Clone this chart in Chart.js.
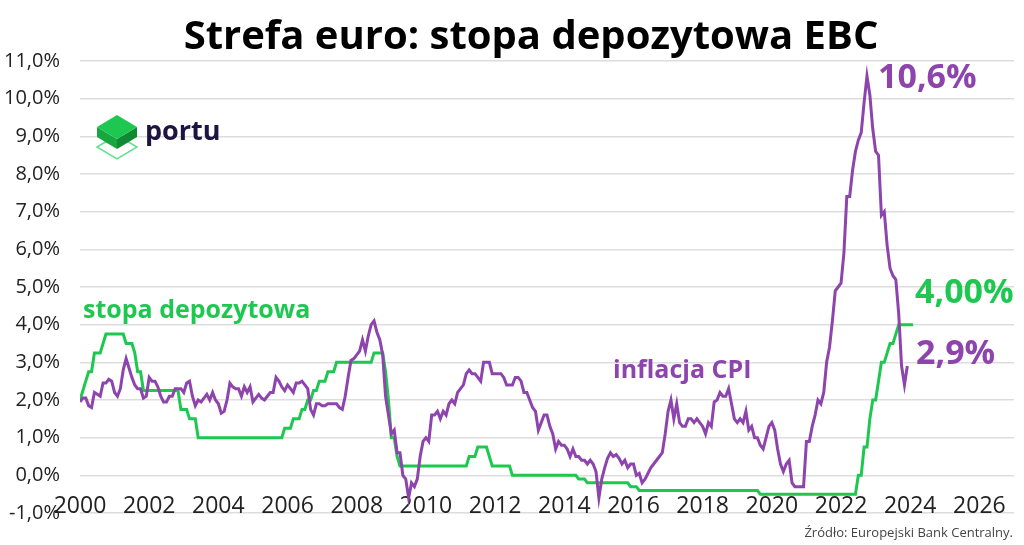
<!DOCTYPE html>
<html>
<head>
<meta charset="utf-8">
<script src="https://cdn.jsdelivr.net/npm/chart.js@4.4.1/dist/chart.umd.min.js"></script>
<style>
  html, body { margin: 0; padding: 0; background: #fff; }
  #wrap { width: 1024px; height: 545px; }
</style>
</head>
<body>
<div id="wrap"><canvas id="chart" width="1024" height="545"></canvas></div>
<script>
// monthly data, first point = January 2000
const startYear = 2000

// inflacja CPI (r/r, %), Jan 2000 - Dec 2023
const cpi = [
  1.95, 2.05, 2.05, 1.85, 1.8, 2.2, 2.15, 2.1, 2.45, 2.45, 2.55, 2.5,   // 2000
  2.2, 2.1, 2.3, 2.8, 3.1, 2.85, 2.6, 2.4, 2.3, 2.3, 2.05, 2.1,        // 2001
  2.6, 2.5, 2.5, 2.35, 2.1, 1.95, 1.95, 2.1, 2.1, 2.3, 2.3, 2.3,       // 2002
  2.2, 2.45, 2.5, 2.1, 1.85, 2.0, 1.95, 2.05, 2.15, 2.0, 2.2, 2.0,     // 2003
  1.9, 1.65, 1.7, 2.0, 2.45, 2.35, 2.3, 2.3, 2.1, 2.35, 2.2, 2.35,     // 2004
  1.95, 2.05, 2.15, 2.05, 2.0, 2.1, 2.2, 2.2, 2.6, 2.5, 2.35, 2.25,    // 2005
  2.4, 2.3, 2.2, 2.45, 2.45, 2.5, 2.4, 2.3, 1.75, 1.6, 1.9, 1.9,       // 2006
  1.85, 1.85, 1.9, 1.9, 1.9, 1.9, 1.8, 1.75, 2.1, 2.6, 3.05, 3.1,      // 2007
  3.2, 3.3, 3.6, 3.3, 3.7, 4.0, 4.1, 3.8, 3.6, 3.2, 2.1, 1.6,          // 2008
  1.1, 1.2, 0.6, 0.6, 0.0, -0.1, -0.6, -0.2, -0.3, -0.1, 0.5, 0.9,     // 2009
  1.0, 0.9, 1.6, 1.6, 1.7, 1.5, 1.7, 1.6, 1.9, 2.0, 1.9, 2.2,          // 2010
  2.3, 2.4, 2.7, 2.8, 2.7, 2.7, 2.6, 2.5, 3.0, 3.0, 3.0, 2.7,          // 2011
  2.7, 2.7, 2.7, 2.6, 2.4, 2.4, 2.4, 2.6, 2.6, 2.5, 2.2, 2.2,          // 2012
  2.0, 1.8, 1.7, 1.2, 1.4, 1.6, 1.6, 1.3, 1.1, 0.7, 0.9, 0.8,          // 2013
  0.8, 0.7, 0.5, 0.7, 0.5, 0.5, 0.4, 0.4, 0.3, 0.4, 0.3, 0.1,          // 2014
  -0.6, -0.1, 0.2, 0.45, 0.6, 0.5, 0.55, 0.45, 0.3, 0.4, 0.2, 0.3,     // 2015
  0.3, 0.0, 0.05, -0.2, -0.1, 0.05, 0.2, 0.3, 0.4, 0.5, 0.6, 1.1,      // 2016
  1.7, 2.0, 1.5, 1.9, 1.4, 1.3, 1.3, 1.5, 1.5, 1.4, 1.5, 1.4,          // 2017
  1.3, 1.1, 1.4, 1.3, 1.95, 2.0, 2.2, 2.1, 2.1, 2.3, 1.9, 1.5,         // 2018
  1.4, 1.5, 1.4, 1.7, 1.2, 1.3, 1.0, 1.0, 0.8, 0.7, 1.0, 1.3,          // 2019
  1.4, 1.2, 0.7, 0.3, 0.1, 0.3, 0.4, -0.2, -0.3, -0.3, -0.3, -0.3,     // 2020
  0.9, 0.9, 1.3, 1.6, 2.0, 1.9, 2.2, 3.0, 3.4, 4.1, 4.9, 5.0,          // 2021
  5.1, 5.9, 7.4, 7.4, 8.1, 8.6, 8.9, 9.1, 9.9, 10.6, 10.1, 9.2,        // 2022
  8.6, 8.5, 6.9, 7.0, 6.1, 5.5, 5.3, 5.2, 4.3, 2.9, 2.4, 2.9           // 2023
]

// stopa depozytowa EBC (%), Jan 2000 - Feb 2024
const depo = [
  2.0, 2.25, 2.5, 2.75, 2.75, 3.25, 3.25, 3.25, 3.5, 3.75, 3.75, 3.75,      // 2000
  3.75, 3.75, 3.75, 3.75, 3.5, 3.5, 3.5, 3.25, 2.75, 2.75, 2.25, 2.25,      // 2001
  2.25, 2.25, 2.25, 2.25, 2.25, 2.25, 2.25, 2.25, 2.25, 2.25, 2.25, 1.75,   // 2002
  1.75, 1.75, 1.5, 1.5, 1.5, 1.0, 1.0, 1.0, 1.0, 1.0, 1.0, 1.0,             // 2003
  1.0, 1.0, 1.0, 1.0, 1.0, 1.0, 1.0, 1.0, 1.0, 1.0, 1.0, 1.0,               // 2004
  1.0, 1.0, 1.0, 1.0, 1.0, 1.0, 1.0, 1.0, 1.0, 1.0, 1.0, 1.25,              // 2005
  1.25, 1.25, 1.5, 1.5, 1.5, 1.75, 1.75, 2.0, 2.0, 2.25, 2.25, 2.5,         // 2006
  2.5, 2.5, 2.75, 2.75, 2.75, 3.0, 3.0, 3.0, 3.0, 3.0, 3.0, 3.0,            // 2007
  3.0, 3.0, 3.0, 3.0, 3.0, 3.0, 3.25, 3.25, 3.25, 3.25, 2.75, 2.0,          // 2008
  1.0, 1.0, 0.5, 0.25, 0.25, 0.25, 0.25, 0.25, 0.25, 0.25, 0.25, 0.25,      // 2009
  0.25, 0.25, 0.25, 0.25, 0.25, 0.25, 0.25, 0.25, 0.25, 0.25, 0.25, 0.25,   // 2010
  0.25, 0.25, 0.25, 0.5, 0.5, 0.5, 0.75, 0.75, 0.75, 0.75, 0.5, 0.25,       // 2011
  0.25, 0.25, 0.25, 0.25, 0.25, 0.25, 0.0, 0.0, 0.0, 0.0, 0.0, 0.0,         // 2012
  0.0, 0.0, 0.0, 0.0, 0.0, 0.0, 0.0, 0.0, 0.0, 0.0, 0.0, 0.0,               // 2013
  0.0, 0.0, 0.0, 0.0, 0.0, -0.1, -0.1, -0.1, -0.2, -0.2, -0.2, -0.2,        // 2014
  -0.2, -0.2, -0.2, -0.2, -0.2, -0.2, -0.2, -0.2, -0.2, -0.2, -0.2, -0.3,   // 2015
  -0.3, -0.3, -0.4, -0.4, -0.4, -0.4, -0.4, -0.4, -0.4, -0.4, -0.4, -0.4,   // 2016
  -0.4, -0.4, -0.4, -0.4, -0.4, -0.4, -0.4, -0.4, -0.4, -0.4, -0.4, -0.4,   // 2017
  -0.4, -0.4, -0.4, -0.4, -0.4, -0.4, -0.4, -0.4, -0.4, -0.4, -0.4, -0.4,   // 2018
  -0.4, -0.4, -0.4, -0.4, -0.4, -0.4, -0.4, -0.4, -0.5, -0.5, -0.5, -0.5,   // 2019
  -0.5, -0.5, -0.5, -0.5, -0.5, -0.5, -0.5, -0.5, -0.5, -0.5, -0.5, -0.5,   // 2020
  -0.5, -0.5, -0.5, -0.5, -0.5, -0.5, -0.5, -0.5, -0.5, -0.5, -0.5, -0.5,   // 2021
  -0.5, -0.5, -0.5, -0.5, -0.5, -0.5, 0.0, 0.0, 0.75, 0.75, 1.5, 2.0,       // 2022
  2.0, 2.5, 3.0, 3.0, 3.25, 3.5, 3.5, 3.75, 4.0, 4.0, 4.0, 4.0,             // 2023
  4.0, 4.0                                                                  // 2024
]

const xTicks = [2000, 2002, 2004, 2006, 2008, 2010, 2012, 2014, 2016, 2018, 2020, 2022, 2024, 2026]

const purple = '#8e44ad'
const green = '#1ec850'

const toPoints = (arr) => arr.map((v, i) => ({x: startYear + i / 12, y: v}))
const pct = (v) => v.toFixed(1).replace('.', ',') + '%'

// title, labels, logo, source
const overlay = {
  id: 'overlay',
  afterDatasetsDraw(chart) {
    const ctx = chart.ctx
    ctx.save()
    ctx.textBaseline = 'alphabetic'

    ctx.fillStyle = '#000'
    ctx.textAlign = 'center'
    ctx.font = 'bold 40px "Open Sans"'
    ctx.fillText('Strefa euro: stopa depozytowa EBC', 531, 49)

    ctx.textAlign = 'left'
    ctx.font = 'bold 25px "Open Sans"'
    ctx.fillStyle = green
    ctx.fillText('stopa depozytowa', 83, 318)
    ctx.fillStyle = purple
    ctx.fillText('inflacja CPI', 613, 378)

    ctx.font = 'bold 34px "Open Sans"'
    ctx.fillStyle = purple
    ctx.fillText('10,6%', 878, 88)
    ctx.fillText('2,9%', 916, 364)
    ctx.fillStyle = green
    ctx.fillText('4,00%', 915, 303)

    ctx.textAlign = 'right'
    ctx.font = '13px "Open Sans"'
    ctx.fillStyle = '#444'
    ctx.fillText('Źródło: Europejski Bank Centralny.', 1013, 537)

    // portu logo
    const cx = 117, w = 20, h = 12
    ctx.strokeStyle = '#5fe08c'
    ctx.lineWidth = 1.5
    ctx.beginPath()
    ctx.moveTo(cx - w, 147); ctx.lineTo(cx, 147 - h); ctx.lineTo(cx + w, 147); ctx.lineTo(cx, 147 + h)
    ctx.closePath(); ctx.stroke()
    const top = 127, side = 10
    ctx.fillStyle = '#17a640'
    ctx.beginPath()
    ctx.moveTo(cx - w, top); ctx.lineTo(cx, top + h); ctx.lineTo(cx, top + h + side); ctx.lineTo(cx - w, top + side)
    ctx.closePath(); ctx.fill()
    ctx.fillStyle = '#0f8a33'
    ctx.beginPath()
    ctx.moveTo(cx + w, top); ctx.lineTo(cx, top + h); ctx.lineTo(cx, top + h + side); ctx.lineTo(cx + w, top + side)
    ctx.closePath(); ctx.fill()
    ctx.fillStyle = '#1ec850'
    ctx.beginPath()
    ctx.moveTo(cx - w, top); ctx.lineTo(cx, top - h); ctx.lineTo(cx + w, top); ctx.lineTo(cx, top + h)
    ctx.closePath(); ctx.fill()

    ctx.textAlign = 'left'
    ctx.font = 'bold 27px "Open Sans"'
    ctx.fillStyle = '#1d1442'
    ctx.fillText('portu', 145, 140)
    ctx.restore()
  }
}

new Chart(document.getElementById('chart'), {
  type: 'line',
  data: {
    datasets: [
      {
        label: 'inflacja CPI',
        data: toPoints(cpi),
        borderColor: purple,
        borderWidth: 3,
        pointRadius: 0,
        tension: 0
      },
      {
        label: 'stopa depozytowa',
        data: toPoints(depo),
        borderColor: green,
        borderWidth: 3,
        pointRadius: 0,
        tension: 0
      }
    ]
  },
  options: {
    responsive: false,
    animation: false,
    events: [],
    layout: {padding: {top: 61, right: 10, bottom: 32, left: 0}},
    plugins: {
      legend: {display: false},
      tooltip: {enabled: false},
      title: {display: false}
    },
    scales: {
      x: {
        type: 'linear',
        position: {y: 0},
        min: 2000,
        max: 2027,
        afterBuildTicks: (scale) => { scale.ticks = xTicks.map(v => ({value: v})) },
        grid: {display: false},
        border: {display: false},
        ticks: {
          autoSkip: false,
          maxRotation: 0,
          padding: 9,
          color: '#222',
          font: {family: 'Open Sans', size: 23},
          callback: (v) => String(v)
        }
      },
      y: {
        min: -1,
        max: 11,
        afterFit: (scale) => { scale.width = 80 },
        grid: {color: '#dddddd', lineWidth: 1.5, drawTicks: false},
        border: {display: false},
        ticks: {
          stepSize: 1,
          padding: 20,
          color: '#222',
          font: {family: 'Open Sans', size: 20},
          callback: (v) => pct(v)
        }
      }
    }
  },
  plugins: [overlay]
})
</script>
</body>
</html>
